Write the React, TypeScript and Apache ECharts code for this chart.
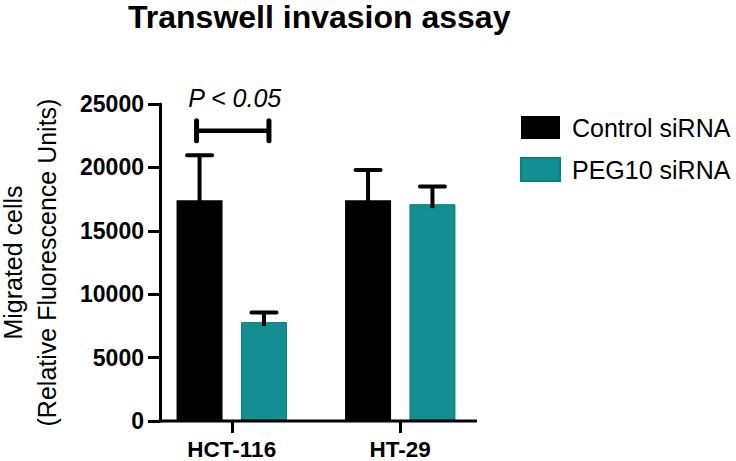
import React, { useEffect, useRef } from "react";
import * as echarts from "echarts";

const categories = ["HCT-116", "HT-29"];
const controlValues = [17400, 17400];
const controlErrors = [3550, 2400];
const pegValues = [7800, 17100];
const pegErrors = [750, 1400];
const seriesNames = ["Control siRNA", "PEG10 siRNA"];
const yTicks = { min: 0, max: 25000, interval: 5000 };
const significance = { category: 0, value: 22900, label: "P < 0.05" };

const FONT = "'Liberation Sans', Arial, Helvetica, sans-serif";
const TEAL = "#138F91";
const BAR_WIDTH = 46;
const BAR_GAP = 0.4;

export default function App() {
  const ref = useRef<HTMLDivElement>(null);
  useEffect(() => {
    if (!ref.current) return;
    document.body.style.margin = "0";
    const chart = echarts.init(ref.current, null, { renderer: "svg" });
    const halfSpacing = (BAR_WIDTH * (1 + BAR_GAP)) / 2;

    const errorSeries = (vals: number[], errs: number[], dir: number) => ({
      type: "custom",
      silent: true,
      z: 5,
      data: vals.map((v, i) => [i, v, v + errs[i]]),
      renderItem: (params: any, api: any) => {
        const base = api.coord([api.value(0), api.value(1)]);
        const top = api.coord([api.value(0), api.value(2)]);
        const x = base[0] + dir * halfSpacing;
        return {
          type: "group",
          children: [
            {
              type: "line",
              shape: { x1: x, y1: base[1] + 4, x2: x, y2: top[1] },
              style: { stroke: "#000", lineWidth: 4 },
            },
            {
              type: "line",
              shape: { x1: x - 12.5, y1: top[1], x2: x + 12.5, y2: top[1] },
              style: { stroke: "#000", lineWidth: 4, lineCap: "round" },
            },
          ],
        };
      },
    });

    chart.setOption({
      animation: false,
      title: {
        text: "Transwell invasion assay",
        left: 128,
        top: 2,
        padding: 0,
        textStyle: { fontFamily: FONT, fontSize: 32, lineHeight: 30, fontWeight: "bold", color: "#000" },
      },
      legend: {
        left: 515,
        top: 110,
        orient: "vertical",
        icon: "rect",
        itemWidth: 39,
        itemHeight: 23,
        itemGap: 17,
        data: seriesNames,
        textStyle: { fontFamily: FONT, fontSize: 25, color: "#000", padding: [0, 0, 0, 7] },
      },
      grid: { left: 147.5, right: 251.5, top: 104, bottom: 40, containLabel: false, outerBoundsMode: "none" },
      xAxis: {
        type: "category",
        data: categories,
        axisLine: { show: false },
        axisTick: { show: true, alignWithLabel: true, length: 12, lineStyle: { color: "#000", width: 3 } },
        axisLabel: {
          margin: 17,
          lineHeight: 22,
          fontFamily: FONT,
          fontSize: 22.5,
          fontWeight: "bold",
          color: "#000",
        },
      },
      yAxis: {
        type: "value",
        min: yTicks.min,
        max: yTicks.max,
        interval: yTicks.interval,
        offset: -12.5,
        name: "Migrated cells\n(Relative Fluorescence Units)",
        nameLocation: "middle",
        nameGap: 96,
        nameTextStyle: { fontFamily: FONT, fontSize: 25, color: "#000", lineHeight: 34 },
        splitLine: { show: false },
        axisLine: { show: true, lineStyle: { color: "#000", width: 3 } },
        axisTick: { show: true, length: 12, lineStyle: { color: "#000", width: 3 } },
        axisLabel: {
          margin: 16,
          fontFamily: FONT,
          fontSize: 23,
          fontWeight: "bold",
          color: "#000",
          formatter: (v: number) => String(v),
        },
      },
      graphic: [
        {
          type: "line",
          shape: { x1: 158.5, y1: 421, x2: 477, y2: 421 },
          style: { stroke: "#000", lineWidth: 3 },
          z: 10,
        },
      ],
      series: [
        {
          name: seriesNames[0],
          type: "bar",
          data: controlValues,
          barWidth: BAR_WIDTH,
          barGap: `${BAR_GAP * 100}%`,
          itemStyle: { color: "#000" },
        },
        {
          name: seriesNames[1],
          type: "bar",
          data: pegValues,
          barWidth: BAR_WIDTH,
          barGap: `${BAR_GAP * 100}%`,
          itemStyle: { color: TEAL, borderColor: "#0C7F80", borderWidth: 1 },
        },
        errorSeries(controlValues, controlErrors, -1),
        errorSeries(pegValues, pegErrors, 1),
        {
          type: "custom",
          silent: true,
          z: 6,
          data: [[significance.category, significance.value]],
          renderItem: (params: any, api: any) => {
            const c = api.coord([api.value(0), api.value(1)]);
            const x1 = c[0] - halfSpacing - 3;
            const x2 = c[0] + halfSpacing + 5;
            const y = c[1];
            return {
              type: "group",
              children: [
                { type: "line", shape: { x1, y1: y, x2, y2: y }, style: { stroke: "#000", lineWidth: 4.5 } },
                { type: "line", shape: { x1, y1: y - 10, x2: x1, y2: y + 10 }, style: { stroke: "#000", lineWidth: 5, lineCap: "round" } },
                { type: "line", shape: { x1: x2, y1: y - 10, x2: x2, y2: y + 10 }, style: { stroke: "#000", lineWidth: 5, lineCap: "round" } },
                {
                  type: "text",
                  style: {
                    x: (x1 + x2) / 2 + 2,
                    y: y - 33,
                    text: significance.label,
                    fontFamily: FONT,
                    fontSize: 25,
                    fontStyle: "italic",
                    fill: "#000",
                    align: "center",
                    verticalAlign: "middle",
                  },
                },
              ],
            };
          },
        },
      ],
    });
    return () => chart.dispose();
  }, []);
  return <div ref={ref} style={{ width: 736, height: 461 }} />;
}
